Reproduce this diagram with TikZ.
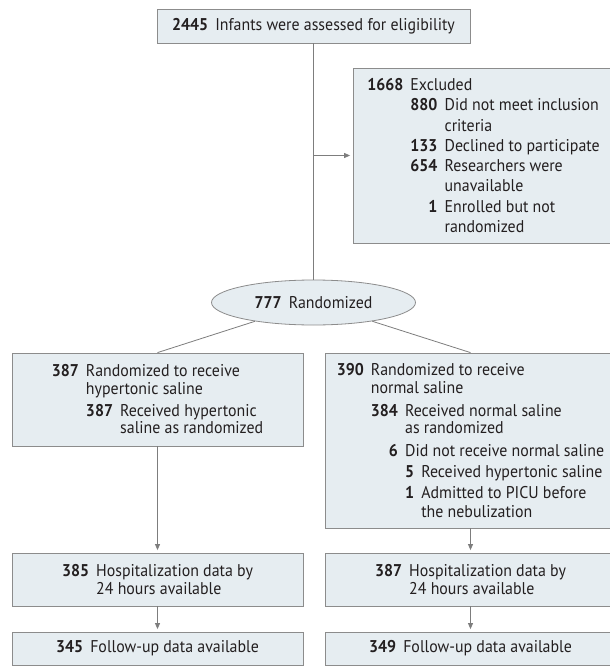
\documentclass[tikz,border=0pt]{standalone}
\usepackage{fontspec}
\setmainfont{PT Sans}[FakeStretch=0.935]
\usepackage{tikz}
\usetikzlibrary{shapes,arrows.meta,positioning,calc}
\definecolor{boxfill}{RGB}{230,237,241}
\definecolor{boxline}{RGB}{140,140,140}
\definecolor{ink}{RGB}{35,31,32}
\definecolor{linegray}{RGB}{125,125,125}
% number column: right aligned in the width of #1
\newcommand\Gap{\hspace{0.42em}}
\newcommand\Nr[2]{\hphantom{\bfseries#1}\llap{\bfseries#2}\Gap}
\newcommand\Ind[1]{\hphantom{\bfseries#1}\Gap}
\tikzset{
  flow/.style={draw=boxline, fill=boxfill, line width=0.8bp, text=ink,
    align=left, inner sep=0pt},
  link/.style={draw=linegray, line width=0.8bp},
  arr/.style={link, -{Triangle[length=6bp,width=5bp]}, shorten >=2.5bp}
}
\begin{document}
\begin{tikzpicture}[x=1bp,y=-1bp,font=\fontsize{17bp}{17.5bp}\selectfont]
  \useasboundingbox (0,0) rectangle (610,668);

  % Screening
  \node (screen) [flow, minimum width=313bp, minimum height=34bp] at (313.5,26)
    {\textbf{2445}\Gap Infants were assessed for eligibility};

  \node (excl) [flow, minimum width=261bp, minimum height=175bp] at (483.5,155.5) {
    \Nr{1668}{1668}Excluded\\[2.8bp]
    \Ind{1668}\Nr{000}{880}Did not meet inclusion\\[2.8bp]
    \Ind{1668}\Ind{000}criteria\\[2.8bp]
    \Ind{1668}\Nr{000}{133}Declined to participate\\[2.8bp]
    \Ind{1668}\Nr{000}{654}Researchers were\\[2.8bp]
    \Ind{1668}\Ind{000}unavailable\\[2.8bp]
    \Ind{1668}\Nr{000}{1}Enrolled but not\\[2.8bp]
    \Ind{1668}\Ind{000}randomized};

  \node (rand) [flow, ellipse, minimum width=204bp, minimum height=45bp] at (313.5,302.5)
    {\textbf{777}\Gap Randomized};

  % Allocation
  \node (lbox) [flow, minimum width=291bp, minimum height=93bp] at (157.5,399.5) {
    \Nr{000}{387}Randomized to receive\\
    \Ind{000}hypertonic saline\\[4.5bp]
    \Ind{000}\Nr{000}{387}Received hypertonic\\
    \Ind{000}\Ind{000}saline as randomized};

  \node (rbox) [flow, minimum width=291bp, minimum height=175bp] at (470.5,440.5) {
    \Nr{000}{390}Randomized to receive\\
    \Ind{000}normal saline\\[5.5bp]
    \Ind{000}\Nr{000}{384}Received normal saline\\
    \Ind{000}\Ind{000}as randomized\\[5.5bp]
    \Ind{000}\Nr{000}{6}Did not receive normal saline\\[3.5bp]
    \Ind{000}\Ind{000}\Nr{0}{5}Received hypertonic saline\\[3.5bp]
    \Ind{000}\Ind{000}\Nr{0}{1}Admitted to PICU before\\[1bp]
    \Ind{000}\Ind{000}\Ind{0}the nebulization};

  % Analysis
  \node (lhosp) [flow, minimum width=291bp, minimum height=53bp] at (157.5,579.5) {
    \Nr{000}{385}Hospitalization data by\\
    \Ind{000}24 hours available};
  \node (rhosp) [flow, minimum width=291bp, minimum height=53bp] at (470.5,579.5) {
    \Nr{000}{387}Hospitalization data by\\
    \Ind{000}24 hours available};

  \node (lfol) [flow, minimum width=291bp, minimum height=33bp] at (157.5,648.5)
    {\textbf{345}\Gap Follow-up data available};
  \node (rfol) [flow, minimum width=291bp, minimum height=33bp] at (470.5,648.5)
    {\textbf{349}\Gap Follow-up data available};

  % Connectors
  \draw [link] (screen.south) -- (rand.north);
  \draw [arr] (screen.south |- excl.west) -- (excl.west);
  \draw [link] (rand) -- (lbox.north);
  \draw [link] (rand) -- (rbox.north);
  \draw [arr] (lbox.south) -- (lhosp.north);
  \draw [arr] (rbox.south) -- (rhosp.north);
  \draw [arr] (lhosp.south) -- (lfol.north);
  \draw [arr] (rhosp.south) -- (rfol.north);

\end{tikzpicture}
\end{document}
